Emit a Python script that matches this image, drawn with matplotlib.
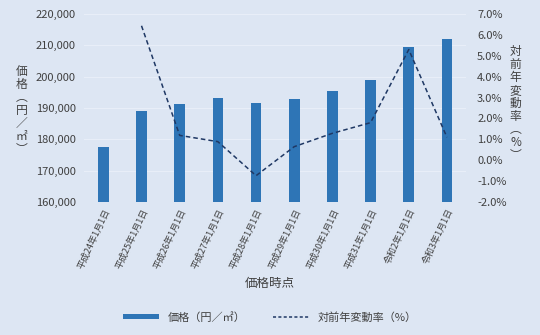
import numpy as np
import matplotlib
matplotlib.use("Agg")
from matplotlib import pyplot as plt
from matplotlib.lines import Line2D
from matplotlib.patches import Patch
from matplotlib.ticker import FuncFormatter

plt.rcParams['font.family'] = ['Noto Sans CJK JP', 'DejaVu Sans']

# data
dates = ["平成24年1月1日", "平成25年1月1日", "平成26年1月1日", "平成27年1月1日",
         "平成28年1月1日", "平成29年1月1日", "平成30年1月1日", "平成31年1月1日",
         "令和2年1月1日", "令和3年1月1日"]
price = [177500, 189000, 191300, 193300, 191500, 192800, 195300, 198800, 209600, 211900]
change = [np.nan, 6.44, 1.19, 0.89, -0.74, 0.65, 1.29, 1.80, 5.30, 1.10]

BG = "#dde6f3"
BAR = "#2e75b6"
LINE = "#1f3864"
TXT = "#404040"

fig = plt.figure(figsize=(5.4, 3.35), dpi=100, facecolor=BG)
ax = fig.add_axes([0.156, 0.397, 0.707, 0.561], facecolor=BG)
x = np.arange(len(dates))
ax.bar(x, price, width=0.28, color=BAR, zorder=3)
ax.set_ylim(160000, 220000)
ax.set_xlim(-0.5, len(dates) - 0.5)
ax.set_yticks(range(160000, 220001, 10000))
ax.yaxis.set_major_formatter(FuncFormatter(lambda v, p: f"{int(v):,}"))
ax.grid(axis='y', color="#e8eef8", linewidth=0.8, zorder=0)
ax.set_xticks(x)
ax.set_xticklabels(dates, rotation=65, ha='right', rotation_mode='anchor', fontsize=6.5, color=TXT)
ax.tick_params(axis='y', labelsize=8, colors=TXT, length=0, pad=6)
ax.tick_params(axis='x', length=0, pad=4)
for s in ax.spines.values():
    s.set_visible(False)

ax2 = ax.twinx()
ax2.plot(x, change, color=LINE, linestyle=(0, (3, 2)), linewidth=1.1, zorder=4)
ax2.set_ylim(-2, 7)
ax2.set_yticks(range(-2, 8))
ax2.yaxis.set_major_formatter(FuncFormatter(lambda v, p: f"{v:.1f}%"))
ax2.tick_params(axis='y', labelsize=8, colors=TXT, length=0, pad=8)
for s in ax2.spines.values():
    s.set_visible(False)

fig.text(0.04, 0.67, "価\n格\n︵\n円\n／\n㎡\n︶", ha='center', va='center',
         fontsize=8.5, color=TXT, linespacing=1.0)
fig.text(0.955, 0.69, "対\n前\n年\n変\n動\n率\n︵\n%\n︶", ha='center', va='center',
         fontsize=8.5, color=TXT, linespacing=1.0)
fig.text(0.5, 0.155, "価格時点", ha='center', va='center', fontsize=9, color=TXT)

handles = [Patch(facecolor=BAR, edgecolor='none'),
           Line2D([0], [0], color=LINE, linestyle=(0, (2, 1.5)), linewidth=1.1)]
fig.legend(handles, ["価格（円／㎡）", "対前年変動率（%）"], loc='center',
           bbox_to_anchor=(0.5, 0.053), ncol=2, frameon=False, fontsize=8,
           handlelength=3.2, handleheight=0.35, columnspacing=2.5,
           labelcolor=TXT)

fig.savefig("out.png", dpi=100, facecolor=BG)
